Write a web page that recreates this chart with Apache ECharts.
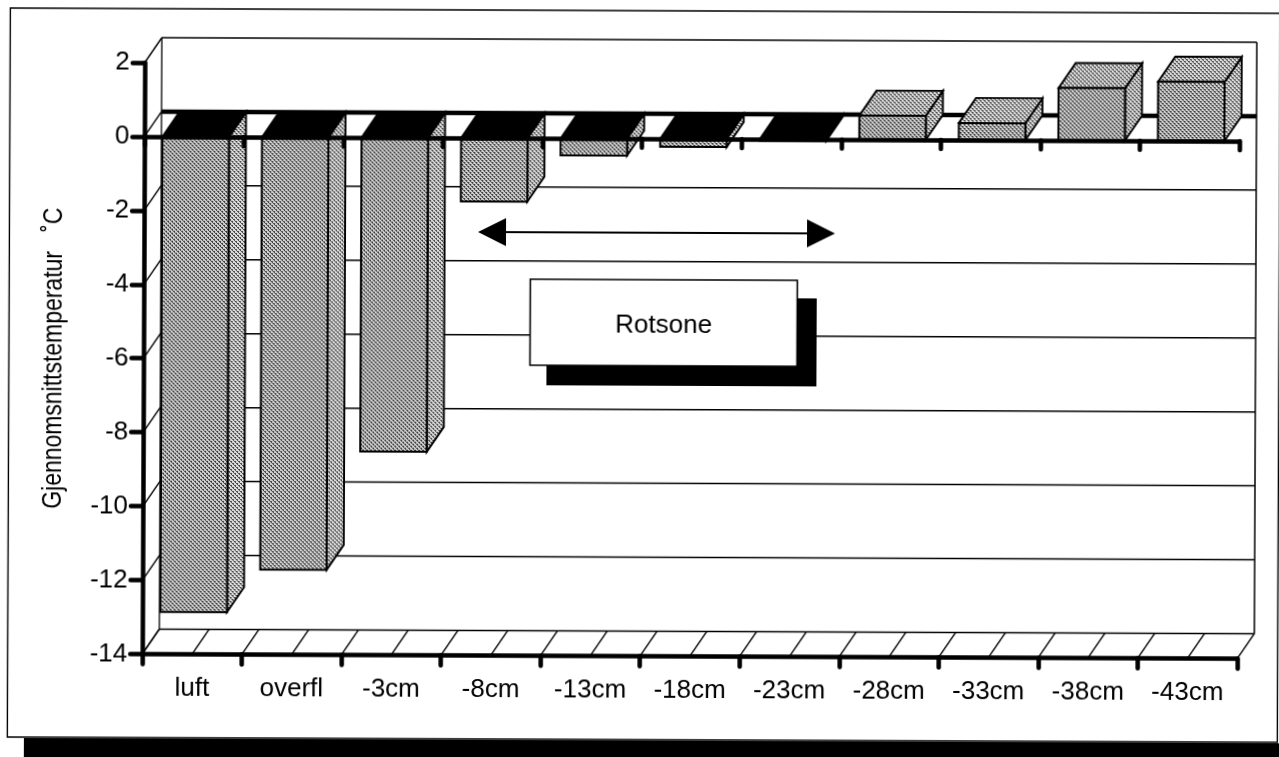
<!DOCTYPE html>
<html>
<head>
<meta charset="utf-8">
<script src="https://cdn.jsdelivr.net/npm/echarts@6/dist/echarts.min.js"></script>
<style>
html,body{margin:0;padding:0;background:#fff;overflow:hidden;width:1279px;height:757px}
#main{position:absolute;left:0;top:0;width:1310px;height:800px;transform-origin:0 0;transform:rotate(0.24deg)}
</style>
</head>
<body>
<div id="main"></div>
<script>
var categories = ['luft','overfl','-3cm','-8cm','-13cm','-18cm','-23cm','-28cm','-33cm','-38cm','-43cm'];
var temperatures = [-12.86,-11.7,-8.5,-1.72,-0.46,-0.22,-0.04,0.65,0.46,1.42,1.6];
var valueTicks = [2,0,-2,-4,-6,-8,-10,-12,-14];
var yAxisTitle = 'Gjennomsnittstemperatur   \u02DAC';
var annotationLabel = 'Rotsone';

var DX = 17, DY = 25;
var FONT = '"Liberation Sans", Arial, sans-serif';

function stipple(bg, fg) {
  var c = document.createElement('canvas');
  c.width = 4; c.height = 4;
  var g = c.getContext('2d');
  g.fillStyle = bg; g.fillRect(0,0,4,4);
  g.fillStyle = fg;
  g.fillRect(0,0,2,1); g.fillRect(2,2,2,1); g.fillRect(1,1,1,1); g.fillRect(3,3,1,1);
  return {image:c, repeat:'repeat'};
}
var fillFront = stipple('#d2d2d2','#3c3c3c');
var fillSide = stipple('#dcdcdc','#4a4a4a');

function poly(points, fill, lw, z2) {
  return {type:'polygon', z2:z2||0, shape:{points:points},
    style:{fill:fill, stroke:'#000', lineWidth:lw==null?1.6:lw, lineJoin:'miter'}};
}
function line(x1,y1,x2,y2,w) {
  return {type:'line', shape:{x1:x1,y1:y1,x2:x2,y2:y2},
    style:{stroke:'#000', lineWidth:w||1.3, fill:null}};
}

function renderWalls(params, api) {
  var cs = params.coordSys;
  var v = api.value(0);
  var y = api.coord([0,v])[1];
  var L = cs.x, R = cs.x + cs.width, T = cs.y, B = cs.y + cs.height;
  var kids = [];
  kids.push(line(L+DX, y-DY, R+DX, y-DY, v===0 ? 4.5 : 1.5));
  kids.push(line(L, y, L+DX, y-DY, 1.4));
  if (v === valueTicks[0]) {
    kids.push(line(L+DX, T-DY, L+DX, B-DY, 1.3));
    kids.push(line(R+DX, T-DY, R+DX, B-DY, 1.5));
  }
  if (v === valueTicks[valueTicks.length-1]) {
    var half = cs.width / categories.length / 2;
    for (var k = 0; k <= categories.length*2; k++) {
      kids.push(line(L+k*half, B, L+k*half+DX, B-DY, 1.4));
    }
  }
  return {type:'group', children:kids};
}

function renderBar(params, api) {
  var i = api.value(0), v = api.value(1);
  var band = api.size([1,0])[0];
  var base = api.coord([i,0]), end = api.coord([i,v]);
  var w = band * 0.668;
  var x0 = base[0] + 1.5 - w/2, x1 = x0 + w;
  var y0 = base[1], yv = end[1];
  var top = Math.min(y0,yv), bot = Math.max(y0,yv);
  var up = v > 0;
  return {type:'group', children:[
    poly([[x1,top],[x1+DX,top-DY],[x1+DX,bot-DY],[x1,bot]], fillSide, 1.9),
    poly([[x0,top],[x1,top],[x1+DX,top-DY],[x0+DX,top-DY]], up ? fillSide : '#000', 1.9),
    poly([[x0,top],[x1,top],[x1,bot],[x0,bot]], fillFront, 2)
  ]};
}

var chart = echarts.init(document.getElementById('main'), null, {renderer:'canvas'});
chart.setOption({
  animation:false,
  backgroundColor:'#fff',
  grid:{left:145, top:62, width:1095, height:591.4, containLabel:false},
  xAxis:[{
    type:'category', data:categories, position:'bottom', z:6,
    axisLine:{onZero:false, lineStyle:{color:'#000', width:4.5, cap:'round'}},
    axisTick:{show:true, alignWithLabel:false, length:10, lineStyle:{color:'#000', width:4.5, cap:'round'}},
    axisLabel:{color:'#000', fontFamily:FONT, fontSize:26, margin:21, interval:0},
    splitLine:{show:false}
  },{
    type:'category', data:categories, position:'bottom', z:6,
    axisLine:{onZero:true, lineStyle:{color:'#000', width:4.5}},
    axisTick:{show:true, length:9, lineStyle:{color:'#000', width:4.5, cap:'round'}},
    axisLabel:{show:false}, splitLine:{show:false}
  }],
  yAxis:{
    type:'value', min:-14, max:2, interval:2, z:6,
    axisLine:{show:true, onZero:false, lineStyle:{color:'#000', width:4.5, cap:'round'}},
    axisTick:{show:true, length:12, lineStyle:{color:'#000', width:4.5, cap:'round'}},
    axisLabel:{color:'#000', fontFamily:FONT, fontSize:26, margin:15, padding:[6,0,0,0]},
    splitLine:{show:false}
  },
  series:[
    {type:'custom', z:1, silent:true, renderItem:renderWalls, data:valueTicks.map(function(v){return [v];}),
      encode:{y:0}},
    {type:'custom', z:3, silent:true, renderItem:renderBar,
      data:temperatures.map(function(v,i){return [i,v];}), encode:{x:0,y:1}}
  ],
  graphic:[
    {type:'rect', z:-10, silent:true, shape:{x:27,y:738,width:1300,height:70}, style:{fill:'#000'}},
    {type:'rect', z:-9, silent:true, shape:{x:10.4,y:8,width:1270,height:729}, style:{fill:'none',stroke:'#000',lineWidth:1.4}},
    {type:'text', z:20, silent:true, x:56, y:358, rotation:Math.PI/2, scaleX:0.85, scaleY:1,
      style:{text:yAxisTitle, fill:'#000', font:'27px "Liberation Sans", Arial, sans-serif', textAlign:'center', textVerticalAlign:'middle'}},
    {type:'line', z:20, silent:true, shape:{x1:506,y1:230,x2:808,y2:230}, style:{stroke:'#000',lineWidth:1.8}},
    {type:'polygon', z:20, silent:true, shape:{points:[[479,230],[507,216],[507,244]]}, style:{fill:'#000'}},
    {type:'polygon', z:20, silent:true, shape:{points:[[836,230],[808,216],[808,244]]}, style:{fill:'#000'}},
    {type:'rect', z:20, silent:true, shape:{x:548,y:295,width:270,height:88}, style:{fill:'#000'}},
    {type:'rect', z:21, silent:true, shape:{x:531.5,y:277,width:267,height:86}, style:{fill:'#fff',stroke:'#000',lineWidth:1.6}},
    {type:'text', z:22, silent:true, x:665, y:322.5, style:{text:annotationLabel, fill:'#000', font:'26px "Liberation Sans", Arial, sans-serif', textAlign:'center', textVerticalAlign:'middle'}}
  ]
});
</script>
</body>
</html>
